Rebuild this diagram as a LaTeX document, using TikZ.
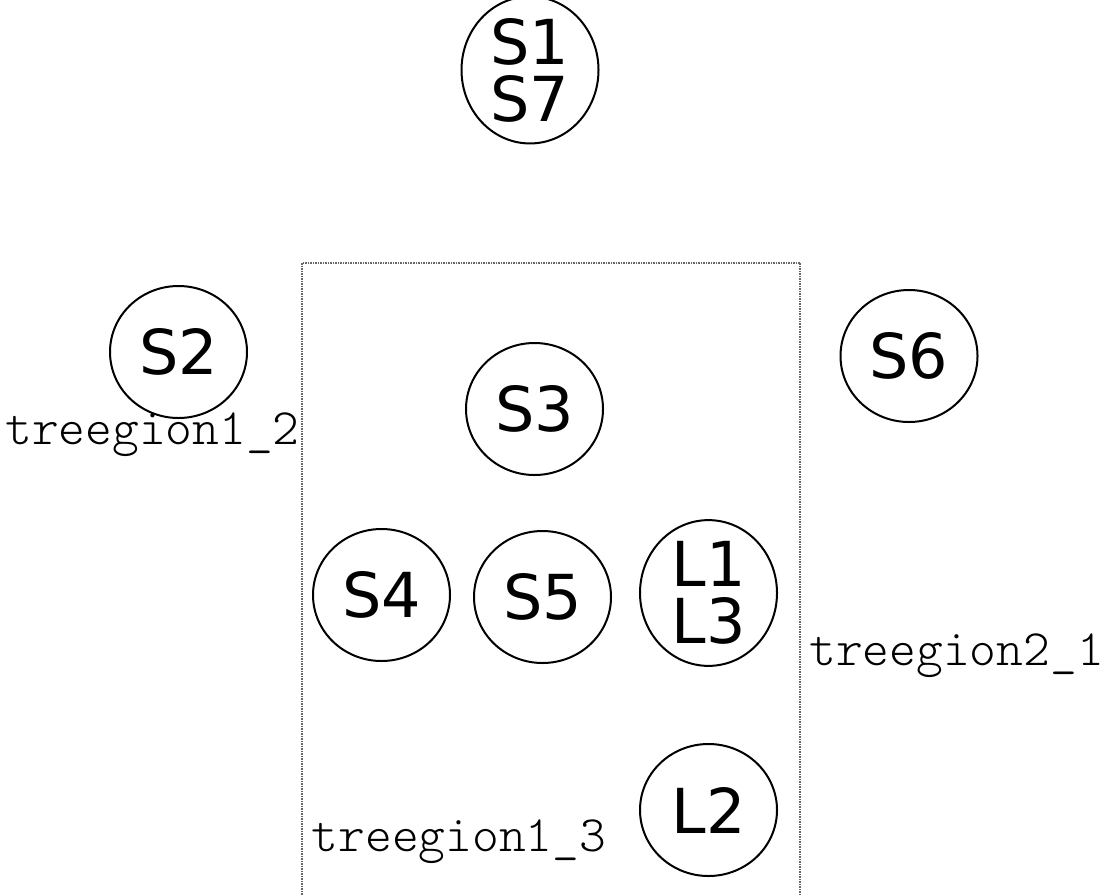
\documentclass[tikz,border=0pt]{standalone}
\usepackage{fontspec}
\usepackage{tikz}
\usetikzlibrary{shapes.geometric}
\newfontfamily\statefont{DejaVu Sans}
\newfontfamily\regionfont{Latin Modern Mono Light}

\begin{document}
\begin{tikzpicture}[x=1pt, y=-1pt, thick]
        % Define styles
        \tikzstyle{tnode} = [ellipse, draw, line width=2pt, minimum width=137pt, minimum height=132pt, inner sep=0pt, align=center, font=\statefont\fontsize{62}{57}\selectfont]
        \tikzstyle{regionbox} = [draw=black!60, line width=1.5pt, densely dotted]
        \tikzstyle{regionlabel} = [anchor=base, inner sep=0pt, font=\regionfont\fontsize{51}{51}\selectfont]

        \useasboundingbox (0,0) rectangle (1107,894);

        % Region
        \draw [regionbox] (302,263) rectangle (800,910);

        % Nodes
        \node (s1s7) [tnode] at (530,70) {S1\\S7};
        \node (s2) [tnode] at (178.5,352) {S2};
        \node (s6) [tnode] at (909,356) {S6};
        \node (s3) [tnode] at (534.5,409) {S3};
        \node (s4) [tnode] at (381.5,595) {S4};
        \node (s5) [tnode] at (542.5,597) {S5};
        \node (l1l3) [tnode] at (708.5,593) {L1\\L3};
        \node (l2) [tnode] at (708.5,810) {L2};

        % Region labels
        \node (tr12) [regionlabel] at (152.5,444) {treegion1\_2};
        \node (tr21) [regionlabel] at (956.5,665) {treegion2\_1};
        \node (tr13) [regionlabel] at (459,851) {treegion1\_3};

    \end{tikzpicture}
\end{document}
